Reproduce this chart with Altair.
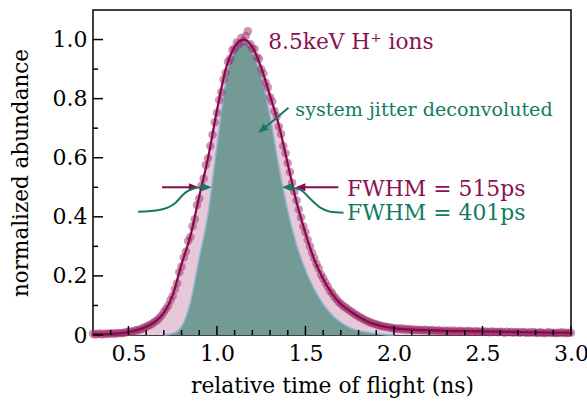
import altair as alt
import pandas as pd

# ---------------- data ----------------
# measured points (normalized abundance), time bins 0.3 ... 3.0 ns, 12.5 ps apart
t_start, t_step = 0.3, 0.0125
counts = [
    0.004, 0.002, 0.003, 0.005, 0.002, 0.004, 0.003, 0.005, 0.004, 0.006, 0.004, 0.006, 0.007, 0.006, 0.008, 0.009, 0.010,
    0.012, 0.011, 0.015, 0.016, 0.019, 0.020, 0.025, 0.027,
    0.032, 0.035, 0.040, 0.046, 0.050, 0.058, 0.066, 0.078,
    0.088, 0.100, 0.118, 0.132, 0.155, 0.175, 0.212, 0.232,
    0.262, 0.283, 0.318, 0.332, 0.368, 0.392, 0.440, 0.462,
    0.505, 0.530, 0.575, 0.598, 0.640, 0.678, 0.720, 0.752,
    0.795, 0.822, 0.865, 0.888, 0.925, 0.935, 0.965, 0.970,
    0.990, 0.985, 1.005, 0.995, 1.012, 1.028, 0.985, 0.970,
    0.968, 0.940, 0.935, 0.900, 0.885, 0.855, 0.838, 0.805,
    0.790, 0.758, 0.740, 0.705, 0.680, 0.640, 0.615, 0.582,
    0.552, 0.515, 0.485, 0.455, 0.425, 0.398, 0.368, 0.348,
    0.322, 0.300, 0.278, 0.260, 0.240, 0.225, 0.205, 0.192,
    0.178, 0.165, 0.150, 0.142, 0.130, 0.122, 0.112, 0.106,
    0.098, 0.094, 0.088, 0.082, 0.078, 0.072, 0.068, 0.063,
    0.058, 0.055, 0.050, 0.047, 0.043, 0.041, 0.038, 0.036,
    0.033, 0.031, 0.030, 0.028, 0.027, 0.025, 0.024, 0.023,
    0.022, 0.020, 0.023, 0.019, 0.021, 0.018, 0.020, 0.017,
    0.019, 0.016, 0.018, 0.017, 0.015, 0.018, 0.016, 0.014,
    0.017, 0.015, 0.013, 0.016, 0.014, 0.012, 0.015, 0.013,
    0.014, 0.012, 0.015, 0.011, 0.013, 0.014, 0.011, 0.013,
    0.012, 0.014, 0.010, 0.012, 0.013, 0.011, 0.012, 0.010,
    0.012, 0.011, 0.009, 0.012, 0.010, 0.011, 0.009, 0.011,
    0.010, 0.008, 0.011, 0.009, 0.010, 0.008, 0.010, 0.009,
    0.008, 0.010, 0.009, 0.007, 0.009, 0.008, 0.010, 0.008,
    0.007, 0.009, 0.008, 0.006, 0.008, 0.009, 0.007, 0.008,
    0.006, 0.008, 0.007, 0.009, 0.006, 0.008, 0.007, 0.008,
]
time = [round(t_start + i * t_step, 4) for i in range(len(counts))]

# fitted curve (measured, FWHM 515 ps)
fit_t = [0.30, 0.35, 0.40, 0.45, 0.50, 0.55, 0.60, 0.65, 0.70, 0.75, 0.80, 0.85, 0.90, 0.95,
         1.00, 1.05, 1.10, 1.15, 1.20, 1.25, 1.30, 1.35, 1.40, 1.45, 1.50, 1.55, 1.60, 1.65,
         1.70, 1.75, 1.80, 1.85, 1.90, 1.95, 2.00, 2.10, 2.20, 2.30, 2.40, 2.50, 2.60, 2.70,
         2.80, 2.90, 3.00]
fit_v = [0.003, 0.003, 0.004, 0.006, 0.010, 0.017, 0.028, 0.045, 0.075, 0.135, 0.24, 0.335, 0.47, 0.60,
         0.76, 0.90, 0.975, 1.00, 0.975, 0.905, 0.81, 0.71, 0.58, 0.45, 0.345, 0.255, 0.19, 0.14,
         0.105, 0.082, 0.062, 0.046, 0.035, 0.028, 0.023, 0.018, 0.016, 0.014, 0.013, 0.012, 0.011, 0.010,
         0.009, 0.008, 0.008]

# system-jitter deconvoluted curve (FWHM 401 ps)
dec_t = [0.70, 0.75, 0.80, 0.85, 0.90, 0.95, 1.00, 1.05, 1.10, 1.15, 1.20, 1.25, 1.30, 1.35,
         1.40, 1.45, 1.50, 1.55, 1.60, 1.65, 1.70, 1.75, 1.80, 1.85, 1.90, 1.95, 2.00]
dec_v = [0.0, 0.005, 0.028, 0.11, 0.26, 0.41, 0.64, 0.855, 0.96, 0.99, 0.955, 0.875, 0.74, 0.57,
         0.42, 0.305, 0.22, 0.155, 0.105, 0.068, 0.043, 0.025, 0.015, 0.009, 0.004, 0.001, 0.0]

# dashed outline near the top of the deconvoluted peak
dash_t = [1.07, 1.10, 1.13, 1.15, 1.17, 1.19]
dash_v = [0.90, 0.945, 0.975, 0.985, 0.978, 0.962]

# annotation connectors
left_curve_t = [0.555, 0.68, 0.765, 0.82, 0.875, 0.94]
left_curve_v = [0.417, 0.424, 0.447, 0.481, 0.497, 0.500]
right_curve_t = [1.405, 1.47, 1.527, 1.584, 1.64, 1.715]
right_curve_v = [0.500, 0.492, 0.461, 0.431, 0.417, 0.414]

x_major = [0.5, 1.0, 1.5, 2.0, 2.5, 3.0]
x_minor = [0.4, 0.6, 0.7, 0.8, 0.9, 1.1, 1.2, 1.3, 1.4, 1.6, 1.7, 1.8, 1.9,
           2.1, 2.2, 2.3, 2.4, 2.6, 2.7, 2.8, 2.9]
y_major = [0.0, 0.2, 0.4, 0.6, 0.8, 1.0]
y_minor = [0.1, 0.3, 0.5, 0.7, 0.9]

# ---------------- styling ----------------
FONT = "DejaVu Serif"
W, H = 478, 325
PURPLE = "#870a4c"
PURPLE_TXT = "#8a1252"
DOT = "#9b2b68"
PINK = "#e6c8d8"
GREEN = "#739a95"
EDGE = "#8fb5d6"
TEAL = "#137a64"

xs = alt.Scale(domain=[0.3, 3.0], nice=False, zero=False)
ys = alt.Scale(domain=[0, 1.1], nice=False, zero=False)
x_axis = alt.Axis(values=x_major, format=".1f", ticks=False, domain=False, grid=False,
                  labelFont=FONT, labelFontSize=22, labelPadding=8, labelColor="black",
                  labelFlush=False, title="relative time of flight (ns)", titleFont=FONT,
                  titleFontSize=21.8, titleFontWeight="normal", titleColor="black",
                  titleY=57, titleBaseline="alphabetic")
y_axis = alt.Axis(values=y_major, labelExpr="datum.value == 0 ? '0' : format(datum.value, '.1f')",
                  ticks=False, domain=False, grid=False, labelFont=FONT, labelFontSize=22,
                  labelPadding=6, labelColor="black", labelBaseline="middle", labelFlush=False,
                  title="normalized abundance", titleFont=FONT, titleFontSize=21.5,
                  titleFontWeight="normal", titleColor="black", titleX=-66, titleY=H / 2,
                  titleBaseline="alphabetic", titleAngle=-90)


def X(f="t"):
    return alt.X(f"{f}:Q", scale=xs, axis=x_axis)


def Y(f="v"):
    return alt.Y(f"{f}:Q", scale=ys, axis=y_axis)


fit_df = pd.DataFrame({"t": fit_t, "v": fit_v})
dec_df = pd.DataFrame({"t": dec_t, "v": dec_v})
pts_df = pd.DataFrame({"t": time, "v": counts})

pink = alt.Chart(fit_df).mark_area(color=PINK, interpolate="monotone").encode(x=X(), y=Y())
green = alt.Chart(dec_df).mark_area(color=GREEN, interpolate="monotone").encode(x=X(), y=Y())
green_edge = alt.Chart(dec_df).mark_line(color=EDGE, strokeWidth=1.5, interpolate="monotone").encode(x=X(), y=Y())
dashed = alt.Chart(pd.DataFrame({"t": dash_t, "v": dash_v})).mark_line(
    color="#5b7b8c", strokeWidth=1.2, strokeDash=[3, 2], interpolate="monotone").encode(x=X(), y=Y())
dots = alt.Chart(pts_df).mark_circle(size=72, color=DOT, opacity=0.5).encode(x=X(), y=Y())
fit_line = alt.Chart(fit_df).mark_line(color=PURPLE, strokeWidth=2.2, interpolate="monotone").encode(x=X(), y=Y())

# arrows
ARROW = "M0,0L-1,-0.4L-1,0.4Z"
purple_shafts = alt.Chart(pd.DataFrame({"t": [0.69, 1.47], "t2": [0.86, 1.686], "v": [0.50, 0.50]})).mark_rule(
    color=PURPLE, strokeWidth=2).encode(x=X(), x2="t2:Q", y=Y())
purple_heads = alt.Chart(pd.DataFrame({"t": [0.898, 1.443], "v": [0.50, 0.50], "a": [0, 180]})).mark_point(
    shape=ARROW, filled=True, size=400, opacity=1, color=PURPLE).encode(x=X(), y=Y(), angle=alt.Angle("a:Q", scale=None))
teal_left = alt.Chart(pd.DataFrame({"t": left_curve_t, "v": left_curve_v})).mark_line(
    color=TEAL, strokeWidth=2, interpolate="monotone").encode(x=X(), y=Y())
teal_right = alt.Chart(pd.DataFrame({"t": right_curve_t, "v": right_curve_v})).mark_line(
    color=TEAL, strokeWidth=2, interpolate="monotone").encode(x=X(), y=Y())
teal_shaft = alt.Chart(pd.DataFrame({"t": [1.404], "t2": [1.262], "v": [0.769], "v2": [0.697]})).mark_rule(
    color=TEAL, strokeWidth=2).encode(x=X(), x2="t2:Q", y=Y(), y2="v2:Q")
teal_heads = alt.Chart(pd.DataFrame({"t": [0.971, 1.367, 1.234], "v": [0.50, 0.50, 0.684], "a": [0, 180, 140]})).mark_point(
    shape=ARROW, filled=True, size=400, opacity=1, color=TEAL).encode(x=X(), y=Y(), angle=alt.Angle("a:Q", scale=None))

# texts
labels_df = pd.DataFrame({
    "t": [1.29, 1.443, 1.735, 1.735],
    "v": [0.968, 0.740, 0.471, 0.390],
    "txt": ["8.5keV H\u207a ions", "system jitter deconvoluted", "FWHM = 515ps", "FWHM = 401ps"],
    "col": [PURPLE_TXT, TEAL, PURPLE_TXT, TEAL],
    "fs": [21.7, 19.1, 21.9, 21.9],
})
texts = alt.Chart(labels_df).mark_text(font=FONT, align="left", baseline="alphabetic").encode(
    x=X(), y=Y(), text="txt:N", color=alt.Color("col:N", scale=None),
    size=alt.Size("fs:Q", scale=None))

# inward ticks
xt_major = alt.Chart(pd.DataFrame({"t": x_major})).mark_rule(color="black", strokeWidth=1.5).encode(
    x=X(), y=alt.value(H), y2=alt.value(H - 9))
xt_minor = alt.Chart(pd.DataFrame({"t": x_minor})).mark_rule(color="black", strokeWidth=1.5).encode(
    x=X(), y=alt.value(H), y2=alt.value(H - 5))
yt_major = alt.Chart(pd.DataFrame({"v": y_major})).mark_rule(color="black", strokeWidth=1.5).encode(
    y=Y(), x=alt.value(0), x2=alt.value(10))
yt_minor = alt.Chart(pd.DataFrame({"v": y_minor})).mark_rule(color="black", strokeWidth=1.5).encode(
    y=Y(), x=alt.value(0), x2=alt.value(5))

chart = alt.layer(
    pink, green, green_edge, dashed, dots, fit_line,
    purple_shafts, purple_heads, teal_left, teal_right, teal_shaft, teal_heads,
    texts, xt_major, xt_minor, yt_major, yt_minor,
).properties(
    width=W, height=H,
    autosize=alt.AutoSizeParams(type="none"),
    padding={"left": 93, "top": 10, "right": 16, "bottom": 68},
    background="white",
).configure_view(stroke="black", strokeWidth=1.5)

chart.save("out.html", embed_options={"renderer": "svg", "actions": False})
